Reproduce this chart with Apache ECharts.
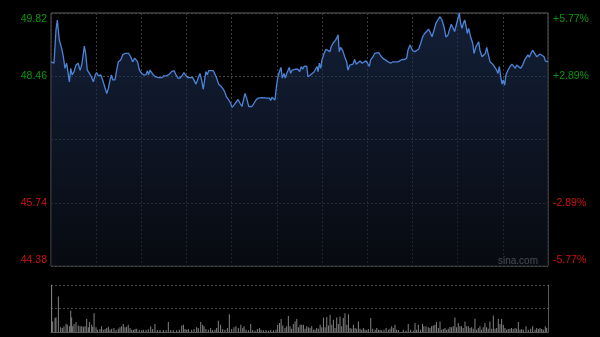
<!DOCTYPE html>
<html><head><meta charset="utf-8">
<script src="https://cdn.jsdelivr.net/npm/echarts@6/dist/echarts.min.js"></script>
<style>html,body{margin:0;padding:0;background:#000;}#c{width:600px;height:337px;}</style>
</head><body><div id="c"></div>
<script>
const prevClose = 47.10;
const priceTicks = ['44.38','45.74','','48.46','49.82'];
const pctTicks = ['-5.77%','-2.89%','','+2.89%','+5.77%'];
// minutes since 09:30 (HK session, 330 trading minutes)
const lineMinutes = [0,2,3.3,4.2,5.5,7.1,8.2,9.3,10.4,11.5,12.2,13.1,14,15.3,16.6,18,19.3,20.4,21.5,22.1,23,24.1,25.5,26.8,28.1,29.4,30.3,31.4,33,34.3,35.6,37,38.1,39.2,40.1,41,42.5,43.6,44.7,46.3,47.6,49.1,50.2,51.6,52.9,54.2,55.6,56.4,57.5,58.7,60.2,61.7,63.1,64,64.8,65.7,66.8,67.9,69.3,71.3,73.5,75,76.8,78.6,80.1,81.7,83,84.3,85.7,87,88.3,89.6,91,92.3,94.1,95.4,96.3,97.2,98,98.9,100,101.1,102,102.9,103.8,104.7,106,107.8,109.1,110,111.3,112.7,114,115.3,116.6,118,119.3,120.2,121.5,122.8,124.2,125.5,126.8,127.7,128.8,129.9,131.3,132.1,133.5,134.8,136.1,137.5,138.8,140.1,141.4,143.2,145,145.9,146.7,147.6,148.7,149.8,150.7,152,152.7,153.6,154.7,155.6,156.5,157.4,158.2,159.1,160,160.9,162,163.1,164,165.1,166.2,167.1,168,168.9,169.8,170.6,172,173.3,174.6,175.7,176.6,177.3,178.2,179.1,179.9,181.3,182.6,183.9,185.2,186.1,187.5,188.8,189.7,190.6,191.4,192.3,193.7,195,196.3,197.2,198.3,199.4,200.5,201.6,202.7,203.8,205.2,206.5,207.8,209.2,210.5,211.4,212.2,213.6,214.9,216.2,217.6,218.9,220.2,221.5,222.9,224.2,225.5,226.9,228.2,230.4,231.7,233.1,234.8,236.2,237,238.4,239.3,240.1,241.5,242.8,244.1,245.5,246.8,248.1,249.4,250.8,252.1,253,254.3,255.6,257,258.3,259.6,260.9,262.3,263.6,264.9,265.8,267.1,268,269.4,270.2,271.1,272,272.9,273.8,274.7,275.6,276.4,277.3,278.6,280,280.9,282.2,283.1,284,284.8,286.2,287.5,288.4,289.3,290.2,291.5,293.3,294.6,295.9,296.8,297.7,298.6,299.5,300.3,301.2,302.1,303.4,304.8,306.1,307.4,308.3,309.2,310.5,311.8,313.2,314.5,315.8,316.7,317.6,318.5,319.8,321.1,322.5,323.4,324.7,326,327.4,328.2,330];
const linePrices = [48.77,48.74,49.45,49.67,49.24,49.06,48.88,48.63,48.74,48.70,48.34,48.63,48.49,48.56,48.70,48.74,48.59,48.70,48.95,49.11,48.95,48.59,48.52,48.45,48.34,48.49,48.54,48.47,48.49,48.38,48.24,48.09,48.20,48.38,48.49,48.38,48.38,48.59,48.77,48.81,48.92,48.95,48.99,48.95,48.88,48.77,48.85,48.88,48.77,48.59,48.52,48.49,48.49,48.58,48.49,48.59,48.56,48.49,48.45,48.43,48.43,48.47,48.47,48.51,48.56,48.58,48.49,48.42,48.42,48.47,48.54,48.47,48.43,48.45,48.43,48.42,48.29,48.29,48.45,48.52,48.38,48.18,48.38,48.56,48.49,48.58,48.58,48.58,48.56,48.42,48.29,48.25,48.20,48.13,48.01,47.95,47.88,47.79,47.84,47.88,47.96,47.88,47.81,47.84,48.09,47.99,47.81,47.77,47.81,47.88,47.95,47.99,48.01,48.00,47.99,47.99,47.99,47.94,48.01,47.99,47.95,48.27,48.45,48.59,48.65,48.42,48.52,48.42,48.52,48.56,48.65,48.52,48.59,48.56,48.61,48.58,48.61,48.56,48.67,48.61,48.67,48.63,48.68,48.45,48.48,48.51,48.55,48.59,48.67,48.56,48.74,48.63,48.81,48.95,49.04,49.08,48.99,49.10,49.18,49.23,49.28,49.35,48.99,49.08,49.01,48.88,48.77,48.59,48.70,48.74,48.72,48.82,48.72,48.75,48.79,48.74,48.75,48.79,48.82,48.67,48.81,48.87,48.95,48.99,48.97,48.90,48.85,48.81,48.79,48.77,48.74,48.77,48.77,48.77,48.78,48.82,48.82,48.85,49.02,49.13,49.11,49.01,48.99,49.02,49.04,49.17,49.31,49.38,49.42,49.47,49.38,49.31,49.45,49.60,49.68,49.74,49.67,49.53,49.30,49.35,49.49,49.58,49.54,49.42,49.60,49.70,49.82,49.60,49.49,49.60,49.67,49.53,49.38,49.49,49.31,49.17,48.95,49.10,49.13,49.20,49.02,48.88,48.85,48.95,49.08,48.95,48.77,48.72,48.68,48.59,48.52,48.67,48.45,48.29,48.38,48.27,48.49,48.59,48.67,48.72,48.70,48.63,48.70,48.67,48.63,48.70,48.81,48.85,48.92,48.87,48.94,49.02,48.99,48.88,48.90,48.94,48.92,48.88,48.79,48.77];
const volMinutes = [0.4,1.1,2.7,3.3,4.9,6.4,7.5,8.6,10,10.8,12.2,13.1,13.7,14.4,15.3,16.6,18.1,19.3,20.4,21.5,22.6,23.7,24.8,25.5,27,27.7,28.6,29.9,30.8,32.5,33.6,34.7,35.9,37,38.1,39.2,40.3,41.8,43.2,44.7,45.8,46.9,48,49.1,50.2,51.3,52.5,53.6,54.7,55.8,56.9,58.6,60.2,61.3,63.1,64.6,66.2,67.5,69,70.6,72.4,74.6,76.4,77.9,79.5,81.2,83.4,85.2,86.8,87.9,89,90.1,91.2,93.4,95,96.7,97.8,99.4,100.7,101.6,102.9,104.5,106,107.3,108.9,110,111.1,112.6,114,115.5,117.1,118.4,120,121.5,122.8,124.4,126,127.3,128.2,129.5,131.1,132.6,133.9,135.5,137,138.4,139.5,141,142.8,144.4,145.9,147.7,149.4,150.5,151.7,152.8,153.9,155.4,156.5,157.6,158.7,159.8,160.9,162.1,163.2,164.3,165.4,166.5,167.6,168.7,169.8,170.9,172,173.1,174.2,175.3,176.4,177.5,178.7,179.8,180.9,182,183.1,184.2,185.3,186.4,187.5,188.6,189.7,190.8,191.9,193,194.1,195.2,196.4,197.5,198.6,199.7,200.8,201.9,203,204.1,205.2,206.3,207.4,208.5,209.6,210.7,212.3,213.6,215.2,216.3,217.4,218.5,219.6,221.1,222.5,224,225.1,226.2,227.3,228.4,229.5,230.7,233.9,235.7,237.2,238.8,240.6,241.7,242.8,243.9,245.4,246.7,247.6,249,250.5,251.6,252.7,253.8,254.9,256,257.2,258.3,259.4,260.5,261.6,262.7,263.8,264.9,266,267.1,268.2,269.3,270.4,271.5,272.6,273.7,274.9,276,277.1,278.2,279.3,280.4,281.5,282.6,283.7,284.8,285.9,287,288.1,289.2,290.3,291.4,292.6,293.7,294.8,295.9,297,298.1,299.2,300.3,301.4,302.5,303.6,304.7,305.8,306.9,308.1,309.2,310.3,311.4,312.5,313.6,315.4,316.9,318.5,319.8,321.4,322.5,323.6,324.7,325.8,326.9,328.2,329.1];
const volValues = [142,32,42,44,107,14,12,17,25,22,17,64,44,17,24,30,20,17,17,16,17,40,14,30,22,15,57,14,7,9,17,7,9,12,16,7,10,12,6,10,14,17,24,14,16,22,12,7,6,9,10,6,5,7,6,8,17,9,24,6,6,6,5,30,6,5,5,7,20,22,9,7,9,7,9,14,12,30,22,17,9,7,12,6,7,12,34,22,9,7,12,54,9,14,17,12,22,12,17,7,5,24,6,4,9,12,7,5,6,4,6,5,7,22,27,39,20,12,17,48,17,10,24,32,39,14,22,22,22,10,17,14,12,17,7,7,12,10,22,14,44,14,45,20,52,22,37,12,44,24,47,17,42,57,22,54,12,10,22,12,10,32,10,7,12,7,5,9,42,10,7,12,7,6,5,7,12,7,10,17,12,22,7,6,7,4,24,7,4,27,7,22,7,24,17,17,14,12,17,20,22,30,12,32,7,9,12,7,10,15,14,17,44,14,27,17,17,12,32,17,17,12,14,10,40,7,12,17,7,14,27,14,10,32,10,50,10,12,40,24,39,22,12,7,9,10,12,9,12,10,30,7,9,7,17,7,10,17,7,12,9,12,9,7,17,12];

const r2 = v => Math.round(v * 100) / 100;
const lo = r2(parseFloat(priceTicks[0]) - prevClose);
const hi = -lo;
const step = r2(hi / 2);
const lineData = lineMinutes.map((m, i) => [m, r2(linePrices[i] - prevClose)]);
const volData = volMinutes.map((m, i) => [m, volValues[i]]);
const volMax = Math.max(...volValues);

const FONT = 'Liberation Sans, Arial, sans-serif';
const GREEN = '#0a960a', RED = '#d01010';
const FS = 10.5;
function rich(){
  return {
    gt:{color:GREEN,fontSize:FS,fontFamily:FONT,padding:[12,0,0,0]},
    g:{color:GREEN,fontSize:FS,fontFamily:FONT},
    r:{color:RED,fontSize:FS,fontFamily:FONT},
    rb:{color:RED,fontSize:FS,fontFamily:FONT,padding:[0,0,12,0]}
  };
}
const keys = ['rb','r','','g','gt'];
function fmt(arr){
  return (v, i) => arr[i] ? '{' + keys[i] + '|' + arr[i] + '}' : '';
}
const chart = echarts.init(document.getElementById('c'));
chart.setOption({
  backgroundColor:'#000',
  animation:false,
  grid:[
    {left:51,top:13,width:497,height:253,show:true,borderColor:'#5a5a5a',borderWidth:1,backgroundColor:'transparent'},
    {left:51,top:285,width:497,height:47}
  ],
  xAxis:[
    {gridIndex:0,type:'value',min:0,max:330,interval:30,axisLine:{show:false},axisTick:{show:false},axisLabel:{show:false},
     splitLine:{show:true,lineStyle:{color:'#3c3c3c',type:[2,2],width:1}}},
    {gridIndex:1,type:'value',min:0,max:330,interval:30,axisLine:{show:true,lineStyle:{color:'#5a5a5a'}},axisTick:{show:false},axisLabel:{show:false},splitLine:{show:false}}
  ],
  yAxis:[
    {gridIndex:0,type:'value',min:lo,max:hi,interval:step,position:'left',axisLine:{show:false},axisTick:{show:false},
     axisLabel:{margin:4,formatter:fmt(priceTicks),rich:rich()},
     splitLine:{show:true,lineStyle:{color:'#4a4a4a',type:[2,2],width:1}}},
    {gridIndex:0,type:'value',min:lo,max:hi,interval:step,position:'right',axisLine:{show:false},axisTick:{show:false},
     axisLabel:{margin:5,formatter:fmt(pctTicks),rich:rich()},splitLine:{show:false}},
    {gridIndex:1,type:'value',min:0,max:volMax,interval:volMax/2,position:'left',axisLine:{show:true,lineStyle:{color:'#5a5a5a'}},axisTick:{show:false},axisLabel:{show:false},
     splitLine:{show:true,lineStyle:{color:'#4a4a4a',type:[2,2],width:1}}},
    {gridIndex:1,type:'value',min:0,max:volMax,position:'right',axisLine:{show:true,lineStyle:{color:'#5a5a5a'}},axisTick:{show:false},axisLabel:{show:false},splitLine:{show:false}}
  ],
  series:[
    {type:'line',xAxisIndex:0,yAxisIndex:0,data:lineData,showSymbol:false,symbol:'none',
     lineStyle:{color:'#4d84d8',width:1.3},
     areaStyle:{origin:'start',color:new echarts.graphic.LinearGradient(0,0,0,1,[{offset:0,color:'rgba(32,52,92,0.85)'},{offset:1,color:'rgba(12,16,26,0.9)'}])}},
    {type:'bar',xAxisIndex:1,yAxisIndex:2,data:volData,barWidth:1,itemStyle:{color:'#828282'}}
  ],
  graphic:[
    {type:'text',left:498,top:256,style:{text:'sina.com',fill:'#a8a8a8',font:'10px '+FONT}}
  ]
});
</script></body></html>
